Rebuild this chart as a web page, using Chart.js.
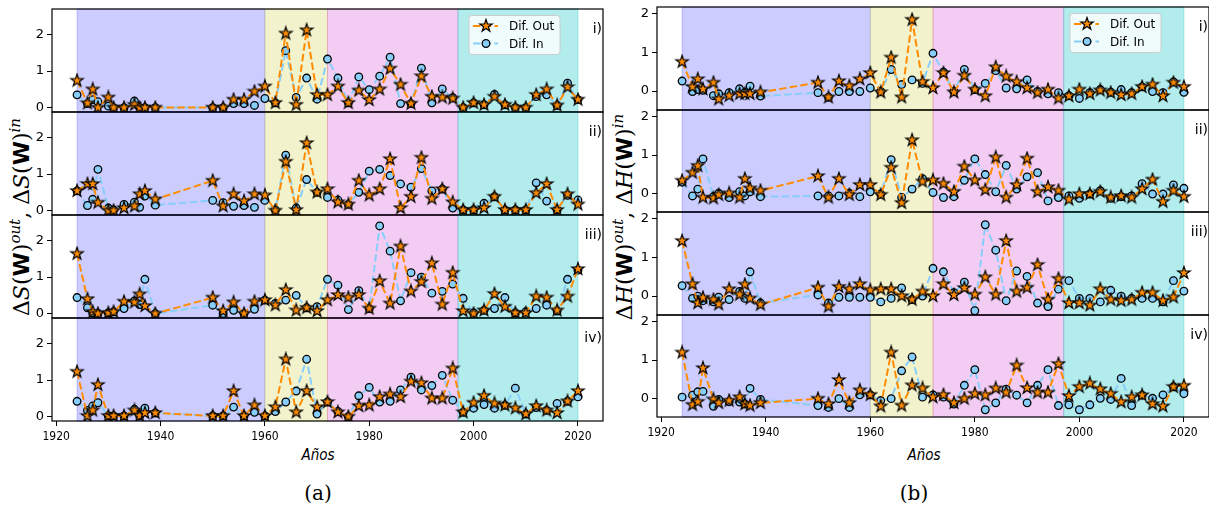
<!DOCTYPE html>
<html>
<head>
<meta charset="utf-8">
<script src="https://cdn.jsdelivr.net/npm/chart.js@4.4.0/dist/chart.umd.min.js"></script>
<style>
  body { margin:0; width:1209px; height:512px; overflow:hidden; background:#fff; position:relative; }
  canvas { position:absolute; }
  .t { position:absolute; white-space:nowrap; color:#000; transform:translate(-50%,-50%); }
  .ylab { font-family:'DejaVu Serif',serif; font-size:22px; transform:translate(-50%,-50%) rotate(-90deg); }
  .ylab b { font-family:'DejaVu Sans',sans-serif; font-weight:bold; }
  .ylab sup { font-size:15px; font-style:italic; }
  .xlab { font-family:'DejaVu Sans Condensed','DejaVu Sans',sans-serif; font-style:italic; font-size:15px; }
  .cap { font-family:'DejaVu Serif',serif; font-size:20px; }
</style>
</head>
<body>
<div class="t ylab" style="left:20px;top:217px">Δ<i>S</i>(<b>W</b>)<sup>out</sup>, Δ<i>S</i>(<b>W</b>)<sup>in</sup></div>
<div class="t ylab" style="left:623px;top:217px">Δ<i>H</i>(<b>W</b>)<sup>out</sup>, Δ<i>H</i>(<b>W</b>)<sup>in</sup></div>
<div class="t xlab" style="left:318px;top:455px">Años</div>
<div class="t xlab" style="left:924px;top:455px">Años</div>
<div class="t cap" style="left:318px;top:493px">(a)</div>
<div class="t cap" style="left:914px;top:493px">(b)</div>
<script>
// años de cada punto
const years = [1924,1926,1927,1928,1930,1931,1933,1935,1936,1937,1939,
  1950,1952,1954,1956,1958,1960,1962,1964,1966,1968,1970,1972,1974,1976,1978,
  1980,1982,1984,1986,1988,1990,1992,1994,1996,1998,2000,2002,2004,2006,2008,
  2010,2012,2014,2016,2018,2020];

// (a) ΔS
const outA1 = [0.74,0.12,0.50,0.00,0.28,0.00,0.00,0.08,0.00,0.00,0.00,0.00,0.00,0.22,0.22,0.44,0.58,0.13,2.03,0.08,2.12,0.35,0.35,0.58,0.13,0.47,0.21,0.50,1.07,0.63,0.11,0.86,0.30,0.28,0.25,0.00,0.13,0.08,0.30,0.08,0.00,0.00,0.35,0.50,0.06,0.56,0.22];
const inA1  = [0.35,0.11,0.22,0.16,0.04,0.00,0.00,0.18,0.00,0.00,0.00,0.00,0.00,0.11,0.11,0.06,0.25,0.13,1.56,0.28,0.81,0.23,1.33,0.81,0.13,0.84,0.49,0.86,1.38,0.11,0.11,1.08,0.13,0.51,0.27,0.00,0.13,0.08,0.36,0.08,0.00,0.00,0.30,0.35,0.06,0.67,0.22];
const outA2 = [0.54,0.73,0.73,0.22,0.00,0.00,0.07,0.12,0.45,0.54,0.31,0.82,0.12,0.45,0.26,0.45,0.42,0.00,1.34,0.02,1.85,0.50,0.59,0.23,0.17,0.82,0.42,0.59,1.41,0.07,0.38,1.45,0.33,0.59,0.23,0.02,0.02,0.07,0.38,0.02,0.02,0.02,0.48,0.73,0.02,0.45,0.17];
const inA2  = [0.54,0.14,0.31,1.13,0.07,0.02,0.17,0.23,0.09,0.40,0.15,0.28,0.22,0.12,0.14,0.09,0.28,0.02,1.52,0.07,0.85,0.50,0.36,0.29,0.17,0.50,1.08,1.13,0.96,0.73,0.64,1.15,0.54,0.59,0.07,0.02,0.02,0.20,0.38,0.02,0.02,0.02,0.76,0.26,0.02,0.42,0.29];
const outA3 = [1.64,0.40,0.05,0.00,0.02,0.05,0.33,0.31,0.53,0.21,0.00,0.44,0.07,0.31,0.00,0.33,0.37,0.23,0.65,0.09,0.16,0.07,0.37,0.51,0.44,0.51,0.14,0.89,0.28,1.84,0.61,0.87,1.38,0.25,1.12,0.07,0.00,0.09,0.54,0.19,0.02,0.02,0.47,0.44,0.09,0.47,1.22];
const inA3  = [0.44,0.16,0.02,0.00,0.02,0.05,0.14,0.35,0.25,0.94,0.00,0.23,0.00,0.09,0.00,0.12,0.37,0.28,0.37,0.50,0.16,0.19,0.94,0.78,0.11,0.63,0.14,2.40,1.71,0.35,1.12,1.00,0.56,0.61,0.81,0.42,0.02,0.09,0.14,0.44,0.02,0.05,0.14,0.23,0.07,0.94,1.19];
const outA4 = [1.23,0.02,0.17,0.87,0.02,0.02,0.02,0.17,0.02,0.10,0.10,0.02,0.02,0.70,0.02,0.31,0.02,0.26,1.57,0.12,0.70,0.26,0.40,0.12,0.00,0.29,0.31,0.54,0.61,0.54,0.96,0.92,0.50,0.50,1.32,0.12,0.38,0.57,0.36,0.31,0.23,0.07,0.29,0.17,0.10,0.42,0.70];
const inA4  = [0.42,0.17,0.29,0.38,0.02,0.02,0.02,0.20,0.02,0.23,0.10,0.02,0.02,0.26,0.02,0.12,0.02,0.14,0.40,0.70,1.57,0.07,0.40,0.14,0.00,0.57,0.80,0.40,0.42,0.73,1.08,0.73,0.85,1.13,0.45,0.12,0.23,0.33,0.23,0.31,0.78,0.07,0.25,0.17,0.36,0.42,0.54];

// (b) ΔH
const outB1 = [0.76,0.11,0.31,0.05,0.22,-0.21,-0.12,-0.07,-0.07,-0.07,-0.03,0.22,-0.16,0.26,0.13,0.31,0.47,-0.03,0.87,-0.16,1.85,0.24,0.08,0.47,-0.03,0.40,0.04,-0.13,0.62,0.38,0.24,0.08,-0.04,0.04,-0.19,-0.13,0.04,-0.07,0.02,-0.04,-0.10,-0.07,0.11,0.17,-0.13,0.22,0.11];
const inB1  = [0.26,-0.01,0.04,0.02,-0.12,-0.07,-0.04,0.06,-0.04,0.13,-0.13,-0.04,-0.16,-0.01,-0.01,-0.01,0.08,-0.01,0.56,0.17,0.29,0.20,0.98,0.49,-0.01,0.56,0.04,0.20,0.53,0.08,0.06,0.29,-0.01,-0.07,-0.04,-0.12,-0.19,-0.04,0.04,-0.03,0.04,-0.04,0.11,-0.01,-0.04,0.24,-0.03];
const outB2 = [0.33,0.54,0.72,-0.11,-0.13,-0.04,0.00,-0.11,0.38,0.13,0.07,0.45,-0.11,0.38,-0.04,0.22,0.22,-0.04,0.67,-0.25,1.39,0.31,0.34,0.25,0.04,0.70,0.34,0.09,0.94,-0.11,0.22,0.91,0.04,0.16,0.07,-0.16,-0.02,-0.02,0.04,-0.11,-0.07,-0.11,0.11,0.36,-0.22,0.07,-0.09];
const inB2  = [0.29,-0.07,0.11,0.90,-0.09,0.00,-0.11,0.04,-0.07,0.04,-0.09,-0.07,-0.07,-0.07,0.00,-0.09,0.04,-0.02,0.88,-0.11,0.11,0.38,0.02,-0.11,-0.09,0.34,0.90,0.49,0.04,0.73,0.11,0.43,0.54,-0.20,-0.11,-0.07,-0.13,-0.02,0.07,-0.13,-0.09,-0.07,0.25,-0.02,-0.02,0.22,0.13];
const outB3 = [1.43,0.31,-0.18,-0.04,-0.09,-0.21,0.18,0.04,0.30,-0.06,-0.22,0.22,-0.27,0.24,0.18,0.31,0.15,0.18,0.18,0.00,-0.09,0.12,0.00,0.31,0.03,0.21,0.04,0.49,0.04,1.43,0.12,0.22,0.81,-0.09,0.45,-0.18,-0.18,-0.24,0.18,-0.09,-0.12,-0.09,0.09,0.09,-0.12,-0.03,0.60];
const inB3  = [0.27,-0.06,0.00,-0.12,-0.15,-0.03,-0.09,0.12,-0.06,0.63,-0.18,0.03,-0.18,-0.03,-0.03,-0.03,-0.03,-0.15,-0.06,0.21,-0.09,0.00,0.72,0.63,0.09,0.36,-0.38,1.85,1.19,-0.12,0.65,0.51,-0.18,-0.27,0.18,0.40,-0.06,-0.06,-0.15,0.15,0.00,-0.06,-0.06,-0.06,-0.15,0.40,0.13];
const outB4 = [1.20,-0.17,-0.09,0.79,-0.03,-0.12,-0.06,0.03,-0.15,-0.19,-0.12,-0.01,-0.15,0.48,-0.12,0.21,0.09,-0.21,1.20,-0.19,0.34,0.26,0.03,0.09,-0.12,-0.01,0.12,0.08,0.26,0.15,0.86,0.27,0.15,0.15,0.90,0.06,0.30,0.39,0.24,0.12,-0.10,0.03,0.08,-0.15,-0.21,0.30,0.33];
const inB4  = [0.03,0.08,0.17,0.18,-0.21,-0.03,-0.09,-0.10,-0.15,0.26,-0.03,-0.19,-0.24,-0.01,-0.24,0.09,0.09,-0.06,-0.01,0.72,1.08,0.03,0.09,0.03,-0.15,0.34,0.75,-0.30,-0.12,0.24,0.08,-0.12,0.34,0.75,-0.19,-0.17,-0.30,-0.17,0.00,-0.03,0.52,-0.19,0.08,0.00,0.09,0.30,0.12];

const yTicks = [0, 1, 2];
const xTicks = [1920, 1940, 1960, 1980, 2000, 2020];
const periods = [[1924, 1960], [1960, 1972], [1972, 1997], [1997, 2020]];
const romans = ['i)', 'ii)', 'iii)', 'iv)'];
const seriesNames = ['Dif. Out', 'Dif. In'];

const ORANGE = '#ff8c00', SKY = '#87cefa';
const spanFill = ['rgba(0,0,255,0.2)', 'rgba(191,191,0,0.2)', 'rgba(191,0,191,0.2)', 'rgba(0,191,191,0.3)'];
const DASH = [7.5, 3.2];
const PADL = 40, PADT = 14, PADR = 10, PADB = 14, XH = 30;

// estrella rellena tipo matplotlib '*'
function starMarker() {
  const c = document.createElement('canvas');
  c.width = c.height = 16;
  const g = c.getContext('2d');
  g.beginPath();
  for (let k = 0; k < 10; k++) {
    const r = k % 2 ? 2.5 : 6.5;
    const a = -Math.PI / 2 + k * Math.PI / 5;
    g.lineTo(8 + r * Math.cos(a), 8 + r * Math.sin(a));
  }
  g.closePath();
  g.fillStyle = ORANGE; g.fill();
  g.lineWidth = 1.2; g.strokeStyle = '#000'; g.stroke();
  return c;
}
const STAR = starMarker();

const deco = {
  id: 'deco',
  beforeDatasetsDraw(chart, args, o) {
    const { ctx, chartArea: a, scales: { x } } = chart;
    ctx.save();
    periods.forEach((p, i) => {
      const x0 = x.getPixelForValue(p[0]), x1 = x.getPixelForValue(p[1]);
      ctx.fillStyle = spanFill[i];
      ctx.fillRect(x0, a.top, x1 - x0, a.bottom - a.top);
      ctx.strokeStyle = spanFill[i];
      ctx.lineWidth = 1;
      ctx.strokeRect(x0, a.top, x1 - x0, a.bottom - a.top);
    });
    ctx.restore();
  },
  afterDatasetsDraw(chart, args, o) {
    const { ctx, chartArea: a } = chart;
    ctx.save();
    ctx.strokeStyle = '#000'; ctx.lineWidth = 1.2;
    ctx.strokeRect(a.left, a.top, a.right - a.left, a.bottom - a.top);

    ctx.fillStyle = '#000';
    ctx.font = '14px "DejaVu Sans", sans-serif';
    ctx.textAlign = 'right'; ctx.textBaseline = 'middle';
    ctx.fillText(o.label, a.right - 1, a.top + 20);

    if (o.legendDr != null) {
      const bw = 91, bh = 39;
      const bx = a.right - o.legendDr - bw, by = a.top + 6.5;
      ctx.fillStyle = 'rgba(255,255,255,0.8)';
      ctx.strokeStyle = '#cccccc'; ctx.lineWidth = 1;
      ctx.beginPath(); ctx.roundRect(bx, by, bw, bh, 3); ctx.fill(); ctx.stroke();
      [[ORANGE, true], [SKY, false]].forEach(([col, star], i) => {
        const yy = by + 10.5 + i * 17.5;
        ctx.strokeStyle = col; ctx.lineWidth = 2; ctx.setLineDash(DASH);
        ctx.beginPath(); ctx.moveTo(bx + 4, yy); ctx.lineTo(bx + 29, yy); ctx.stroke();
        ctx.setLineDash([]);
        if (star) ctx.drawImage(STAR, bx + 17 - 8, yy - 8);
        else {
          ctx.beginPath(); ctx.arc(bx + 17, yy, 3.8, 0, Math.PI * 2);
          ctx.fillStyle = SKY; ctx.fill();
          ctx.strokeStyle = '#000'; ctx.lineWidth = 1.3; ctx.stroke();
        }
        ctx.fillStyle = '#000';
        ctx.font = '12px "DejaVu Sans", sans-serif';
        ctx.textAlign = 'left'; ctx.textBaseline = 'middle';
        ctx.fillText(seriesNames[i], bx + 40, yy + 1);
      });
    }
    ctx.restore();
  }
};

function subplot(left, right, top, bottom, out, inn, yMin, yMax, idx, isBottom, legendDr) {
  const cv = document.createElement('canvas');
  const w = right - left + PADL + PADR;
  const h = bottom - top + PADT + (isBottom ? XH : PADB);
  cv.width = w; cv.height = h;
  cv.style.left = (left - PADL) + 'px';
  cv.style.top = (top - PADT) + 'px';
  document.body.appendChild(cv);

  new Chart(cv, {
    type: 'line',
    data: {
      datasets: [
        { label: seriesNames[0], data: years.map((x, i) => ({ x, y: out[i] })),
          borderColor: ORANGE, borderWidth: 2, borderDash: DASH, fill: false, tension: 0,
          pointStyle: STAR, pointRadius: 6, pointHoverRadius: 6 },
        { label: seriesNames[1], data: years.map((x, i) => ({ x, y: inn[i] })),
          borderColor: SKY, borderWidth: 2, borderDash: DASH, fill: false, tension: 0,
          pointStyle: 'circle', pointRadius: 3.8, pointBackgroundColor: SKY,
          pointBorderColor: '#000', pointBorderWidth: 1.3 }
      ]
    },
    options: {
      responsive: false, animation: false, devicePixelRatio: 1,
      layout: { padding: { left: 0, top: PADT, right: PADR, bottom: isBottom ? 0 : PADB } },
      plugins: {
        legend: { display: false }, tooltip: { enabled: false },
        deco: { label: romans[idx], legendDr: legendDr }
      },
      scales: {
        x: {
          type: 'linear', min: 1919.2, max: 2024.8, display: isBottom,
          afterBuildTicks: s => { s.ticks = xTicks.map(v => ({ value: v })); },
          afterFit: s => { if (isBottom) s.height = XH; },
          border: { display: false },
          grid: { drawOnChartArea: false, drawTicks: true, tickLength: 5, color: '#000' },
          ticks: { color: '#000', padding: 4, maxRotation: 0,
            font: { family: '"DejaVu Sans Condensed", "DejaVu Sans", sans-serif', size: 12 },
            callback: v => String(v) }
        },
        y: {
          min: yMin, max: yMax,
          afterBuildTicks: s => { s.ticks = yTicks.map(v => ({ value: v })); },
          afterFit: s => { s.width = PADL; },
          border: { display: false },
          grid: { drawOnChartArea: false, drawTicks: true, tickLength: 5, color: '#000' },
          ticks: { color: '#000', padding: 3,
            font: { family: '"DejaVu Sans", sans-serif', size: 13 } }
        }
      }
    },
    plugins: [deco]
  });
}

const seriesA = [[outA1, inA1], [outA2, inA2], [outA3, inA3], [outA4, inA4]];
const seriesB = [[outB1, inB1], [outB2, inB2], [outB3, inB3], [outB4, inB4]];
const edgesA = [9, 112, 215, 318, 421];
const edgesB = [7, 110, 212, 315, 417];

seriesA.forEach((s, i) =>
  subplot(52, 603, edgesA[i], edgesA[i + 1], s[0], s[1], -0.12, 2.70, i, i === 3, i === 0 ? 43 : null));
seriesB.forEach((s, i) =>
  subplot(657, 1209, edgesB[i], edgesB[i + 1], s[0], s[1], -0.49, 2.18, i, i === 3, i === 0 ? 48 : null));
</script>
</body>
</html>
